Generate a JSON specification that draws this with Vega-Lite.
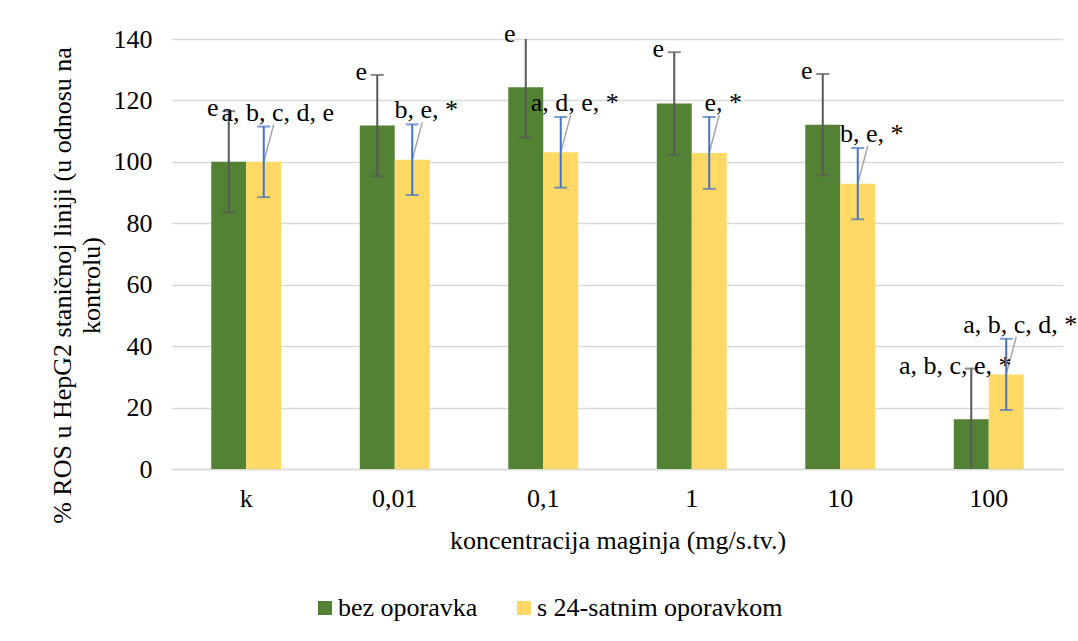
{
  "$schema": "https://vega.github.io/schema/vega-lite/v6.json",
  "width": 891,
  "height": 430,
  "autosize": {"type": "none"},
  "padding": {"left": 172, "top": 39, "right": 15, "bottom": 172},
  "background": "white",
  "config": {
    "font": "Liberation Serif",
    "view": {"stroke": null},
    "axis": {"labelColor": "#000000", "titleColor": "#000000", "labelFont": "Liberation Serif", "titleFont": "Liberation Serif"}
  },
  "data": {
    "values": [
      {"cat": "k", "series": "bez oporavka", "value": 100, "lo": 83.5, "hi": 116.5, "label": "e"},
      {"cat": "k", "series": "s 24-satnim oporavkom", "value": 100, "lo": 88.5, "hi": 111.5, "label": "a, b, c, d, e"},
      {"cat": "0,01", "series": "bez oporavka", "value": 111.8, "lo": 95.3, "hi": 128.3, "label": "e"},
      {"cat": "0,01", "series": "s 24-satnim oporavkom", "value": 100.7, "lo": 89.2, "hi": 112.2, "label": "b, e, *"},
      {"cat": "0,1", "series": "bez oporavka", "value": 124.3, "lo": 107.9, "hi": 140.7, "label": "e"},
      {"cat": "0,1", "series": "s 24-satnim oporavkom", "value": 103.1, "lo": 91.6, "hi": 114.6, "label": "a, d, e, *"},
      {"cat": "1", "series": "bez oporavka", "value": 119.0, "lo": 102.3, "hi": 135.7, "label": "e"},
      {"cat": "1", "series": "s 24-satnim oporavkom", "value": 102.9, "lo": 91.2, "hi": 114.6, "label": "e, *"},
      {"cat": "10", "series": "bez oporavka", "value": 112.1, "lo": 95.6, "hi": 128.6, "label": "e"},
      {"cat": "10", "series": "s 24-satnim oporavkom", "value": 92.9, "lo": 81.3, "hi": 104.5, "label": "b, e, *"},
      {"cat": "100", "series": "bez oporavka", "value": 16.2, "lo": -0.3, "hi": 32.7, "label": "a, b, c, e, *"},
      {"cat": "100", "series": "s 24-satnim oporavkom", "value": 30.8, "lo": 19.2, "hi": 42.4, "label": "a, b, c, d, *"}
    ]
  },
  "encoding": {
    "x": {
      "field": "cat",
      "type": "nominal",
      "sort": ["k", "0,01", "0,1", "1", "10", "100"],
      "scale": {"paddingInner": 0.529, "paddingOuter": 0.2645},
      "axis": {
        "title": "koncentracija maginja (mg/s.tv.)",
        "labelAngle": 0,
        "labelFontSize": 26,
        "labelPadding": 16,
        "ticks": false,
        "domain": true,
        "domainColor": "#d9d9d9",
        "domainWidth": 1.5,
        "titleFontSize": 26,
        "titleFontWeight": "normal",
        "titlePadding": 16
      }
    },
    "xOffset": {"field": "series", "type": "nominal", "sort": ["bez oporavka", "s 24-satnim oporavkom"]}
  },
  "layer": [
    {
      "mark": {"type": "bar"},
      "encoding": {
        "y": {
          "field": "value",
          "type": "quantitative",
          "scale": {"domain": [0, 140], "nice": false},
          "axis": {
            "title": ["% ROS u HepG2 staničnoj liniji (u odnosu na", "kontrolu)"],
            "values": [0, 20, 40, 60, 80, 100, 120, 140],
            "grid": true,
            "gridColor": "#d9d9d9",
            "gridWidth": 1.5,
            "domain": false,
            "ticks": false,
            "labelPadding": 20,
            "labelFontSize": 26,
            "titleFontSize": 26,
            "titleFontWeight": "normal",
            "titleAngle": -90,
            "titleAlign": "center",
            "titleBaseline": "middle",
            "titleLineHeight": 29,
            "titleX": -110,
            "titleY": 246
          }
        },
        "color": {
          "field": "series",
          "type": "nominal",
          "sort": ["bez oporavka", "s 24-satnim oporavkom"],
          "scale": {"domain": ["bez oporavka", "s 24-satnim oporavkom"], "range": ["#548235", "#FFD966"]},
          "legend": {
            "title": null,
            "orient": "none",
            "legendX": 140,
            "legendY": 556,
            "direction": "horizontal",
            "symbolType": "square",
            "symbolSize": 196,
            "symbolStrokeWidth": 0,
            "labelFontSize": 26,
            "labelFont": "Liberation Serif",
            "labelColor": "#000000",
            "labelLimit": 400,
            "labelOffset": 0,
            "columnPadding": 33
          }
        }
      }
    },
    {
      "transform": [{"filter": "datum.series == 's 24-satnim oporavkom'"}],
      "mark": {"type": "rule", "color": "#a6a6a6", "strokeWidth": 1.5, "x2Offset": 27.5, "y2Offset": -2},
      "encoding": {
        "x2": {"field": "cat"},
        "y": {"field": "value", "type": "quantitative"},
        "y2": {"field": "hi"}
      }
    },
    {
      "transform": [{"filter": "datum.series == 'bez oporavka'"}],
      "layer": [
        {
          "mark": {"type": "rule", "color": "#595959", "strokeWidth": 2, "clip": true},
          "encoding": {"y": {"field": "lo", "type": "quantitative"}, "y2": {"field": "hi"}}
        },
        {
          "mark": {"type": "tick", "color": "#595959", "size": 13, "thickness": 2, "clip": true},
          "encoding": {"y": {"field": "lo", "type": "quantitative"}}
        },
        {
          "mark": {"type": "tick", "color": "#595959", "size": 13, "thickness": 2, "clip": true},
          "encoding": {"y": {"field": "hi", "type": "quantitative"}}
        },
        {
          "mark": {"type": "text", "fontSize": 26, "font": "Liberation Serif", "color": "#000000", "align": "center", "baseline": "middle", "dx": -16, "dy": -3},
          "encoding": {"y": {"field": "hi", "type": "quantitative"}, "text": {"field": "label"}}
        }
      ]
    },
    {
      "transform": [{"filter": "datum.series == 's 24-satnim oporavkom'"}],
      "layer": [
        {
          "mark": {"type": "rule", "color": "#4472C4", "strokeWidth": 2},
          "encoding": {"y": {"field": "lo", "type": "quantitative"}, "y2": {"field": "hi"}}
        },
        {
          "mark": {"type": "tick", "color": "#4472C4", "size": 13, "thickness": 2},
          "encoding": {"y": {"field": "lo", "type": "quantitative"}}
        },
        {
          "mark": {"type": "tick", "color": "#4472C4", "size": 13, "thickness": 2},
          "encoding": {"y": {"field": "hi", "type": "quantitative"}}
        },
        {
          "mark": {"type": "text", "fontSize": 26, "font": "Liberation Serif", "color": "#000000", "align": "center", "baseline": "middle", "dx": 14, "dy": -14},
          "encoding": {"y": {"field": "hi", "type": "quantitative"}, "text": {"field": "label"}}
        }
      ]
    }
  ]
}
